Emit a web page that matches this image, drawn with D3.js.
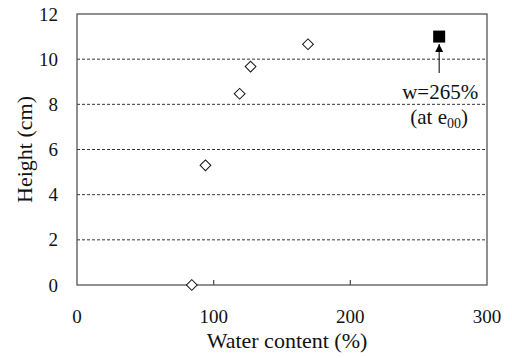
<!DOCTYPE html>
<html>
<head>
<meta charset="utf-8">
<script src="https://cdn.jsdelivr.net/npm/d3@7"></script>
<style>
  body { margin: 0; background: #fff; }
  svg text { fill: #111; }
</style>
</head>
<body>
<svg id="chart" width="512" height="358" font-family="'Liberation Serif', 'Times New Roman', serif"></svg>
<script>
const waterContent = [84, 94, 119, 127, 169];
const heights = [0, 5.3, 8.47, 9.67, 10.66];
const e00Point = { w: 265, h: 11 };
const xTicks = [0, 100, 200, 300];
const yTicks = [0, 2, 4, 6, 8, 10, 12];

const svg = d3.select("#chart");
const margin = { left: 77, right: 25, top: 14, bottom: 73 };
const width = 512, height = 358;

const x = d3.scaleLinear().domain([0, 300]).range([margin.left, width - margin.right]);
const y = d3.scaleLinear().domain([0, 12]).range([height - margin.bottom, margin.top]);

// gridlines
svg.append("g")
  .selectAll("line")
  .data(yTicks.filter(d => d > 0 && d < 12))
  .enter().append("line")
  .attr("x1", x(0)).attr("x2", x(300))
  .attr("y1", d => y(d)).attr("y2", d => y(d))
  .attr("stroke", "#333")
  .attr("stroke-width", 1)
  .attr("stroke-dasharray", "3,2");

// frame
svg.append("rect")
  .attr("x", x(0)).attr("y", y(12))
  .attr("width", x(300) - x(0)).attr("height", y(0) - y(12))
  .attr("fill", "none").attr("stroke", "#555").attr("stroke-width", 1.3);

// x axis ticks (inward)
svg.append("g")
  .selectAll("line")
  .data(xTicks.slice(1, -1))
  .enter().append("line")
  .attr("x1", d => x(d)).attr("x2", d => x(d))
  .attr("y1", y(0)).attr("y2", y(0) - 5)
  .attr("stroke", "#555").attr("stroke-width", 1.3);

svg.append("g")
  .selectAll("text")
  .data(xTicks)
  .enter().append("text")
  .attr("x", d => x(d)).attr("y", 323)
  .attr("text-anchor", "middle")
  .attr("font-size", 19)
  .text(d => d);

svg.append("g")
  .selectAll("text")
  .data(yTicks)
  .enter().append("text")
  .attr("x", 58).attr("y", d => y(d) + 6.5)
  .attr("text-anchor", "end")
  .attr("font-size", 19)
  .text(d => d);

// axis titles
svg.append("text")
  .attr("x", 287).attr("y", 348)
  .attr("text-anchor", "middle")
  .attr("font-size", 22)
  .text("Water content (%)");

svg.append("text")
  .attr("transform", `translate(32,${y(6)}) rotate(-90)`)
  .attr("text-anchor", "middle")
  .attr("font-size", 22)
  .text("Height (cm)");

// diamonds
const diamond = d3.symbol().type(d3.symbolSquare).size(58);
svg.append("g")
  .selectAll("path")
  .data(waterContent.map((w, i) => [w, heights[i]]))
  .enter().append("path")
  .attr("d", diamond)
  .attr("transform", d => `translate(${x(d[0])},${y(d[1])}) rotate(45)`)
  .attr("fill", "#fff").attr("stroke", "#111").attr("stroke-width", 1);

// e00 point
svg.append("path")
  .attr("d", d3.symbol().type(d3.symbolSquare).size(144))
  .attr("transform", `translate(${x(e00Point.w)},${y(e00Point.h)})`)
  .attr("fill", "#000");

// arrow
svg.append("defs").append("marker")
  .attr("id", "arrow").attr("viewBox", "0 0 10 10")
  .attr("refX", 10).attr("refY", 5)
  .attr("markerWidth", 8).attr("markerHeight", 8)
  .attr("markerUnits", "userSpaceOnUse")
  .attr("orient", "auto")
  .append("path").attr("d", "M0,0 L10,5 L0,10 z").attr("fill", "#000");

svg.append("line")
  .attr("x1", x(e00Point.w)).attr("x2", x(e00Point.w))
  .attr("y1", 73).attr("y2", 44)
  .attr("stroke", "#000").attr("stroke-width", 1)
  .attr("marker-end", "url(#arrow)");

const lbl = svg.append("g").attr("font-size", 21);
lbl.append("text")
  .attr("x", x(e00Point.w) + 1).attr("y", 99)
  .attr("text-anchor", "middle")
  .text("w=265%");
const t2 = lbl.append("text")
  .attr("x", x(e00Point.w)).attr("y", 124)
  .attr("text-anchor", "middle");
t2.append("tspan").text("(at e");
t2.append("tspan").attr("font-size", 14).attr("dy", 4).text("00");
t2.append("tspan").attr("dy", -4).text(")");
</script>
</body>
</html>
